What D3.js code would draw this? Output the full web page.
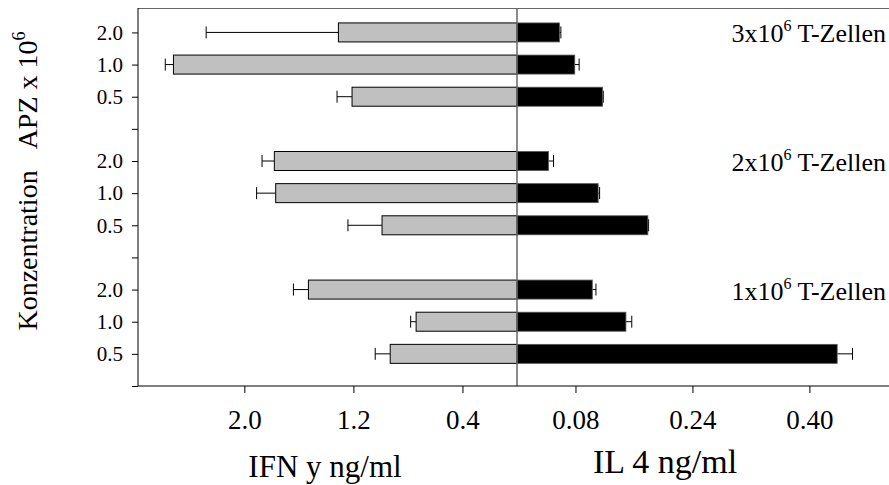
<!DOCTYPE html>
<html>
<head>
<meta charset="utf-8">
<script src="https://cdn.jsdelivr.net/npm/d3@7"></script>
<style>
  html, body { margin: 0; padding: 0; background: #fff; }
  svg { display: block; }
  text { font-family: "Liberation Serif", "Times New Roman", serif; fill: #000; }
</style>
</head>
<body>
<svg id="chart" width="889" height="485"></svg>
<script>
// ---- data ----
const groups = ["3", "2", "1"];                 // x10^6 T-Zellen
const concentrations = ["2.0", "1.0", "0.5"];   // APZ x 10^6
const ifnValues = [[1.31, 2.52, 1.21], [1.78, 1.77, 0.99], [1.53, 0.74, 0.93]];
const ifnErrors = [[0.97, 0.06, 0.11], [0.09, 0.14, 0.25], [0.11, 0.04, 0.11]];
const il4Values = [[0.058, 0.079, 0.117], [0.043, 0.111, 0.179], [0.103, 0.149, 0.438]];
const il4Errors = [[0.002, 0.006, 0.001], [0.007, 0.002, 0.001], [0.005, 0.008, 0.021]];
const yTickLabels = ["", "0.5", "1.0", "2.0", "", "0.5", "1.0", "2.0", "", "0.5", "1.0", "2.0"];
const ifnTicks = [2.0, 1.2, 0.4];
const il4Ticks = [0.08, 0.24, 0.40];

(function () {
// ---- layout ----
const pLeft = 138, pTop = 8, pBottom = 386, zeroX = 517;
const svg = d3.select("#chart");

const xL = d3.scaleLinear().domain([0, 2.78]).range([zeroX, pLeft]);
const xR = d3.scaleLinear().domain([0, 0.53]).range([zeroX, zeroX + 0.53 * 731]);
const y = d3.scaleLinear().domain([0, 11.76]).range([pBottom, pTop]);
const barH = 19;

const rows = [];
groups.forEach((g, gi) => {
  concentrations.forEach((c, ci) => {
    rows.push({
      slot: 11 - gi * 4 - ci,
      ifn: ifnValues[gi][ci], ifnErr: ifnErrors[gi][ci],
      il4: il4Values[gi][ci], il4Err: il4Errors[gi][ci]
    });
  });
});

// frame top line
svg.append("line").attr("x1", pLeft).attr("x2", 889).attr("y1", pTop + 0.5).attr("y2", pTop + 0.5)
  .attr("stroke", "#666").attr("stroke-width", 1.2);

// error bars
const eL = svg.append("g");
rows.forEach(r => {
  const yc = y(r.slot);
  const x0 = xL(r.ifn), x1 = xL(r.ifn + r.ifnErr);
  eL.append("line").attr("x1", x0).attr("x2", x1).attr("y1", yc).attr("y2", yc).attr("stroke", "#000").attr("stroke-width", 1);
  eL.append("line").attr("x1", x1).attr("x2", x1).attr("y1", yc - 6).attr("y2", yc + 6).attr("stroke", "#000").attr("stroke-width", 1);
  const r0 = xR(r.il4), r1 = xR(r.il4 + r.il4Err);
  eL.append("line").attr("x1", r0).attr("x2", r1).attr("y1", yc).attr("y2", yc).attr("stroke", "#000").attr("stroke-width", 1);
  eL.append("line").attr("x1", r1).attr("x2", r1).attr("y1", yc - 6).attr("y2", yc + 6).attr("stroke", "#000").attr("stroke-width", 1);
});

// IFN bars
svg.append("g").selectAll("rect").data(rows).join("rect")
  .attr("x", d => xL(d.ifn)).attr("y", d => y(d.slot) - barH / 2)
  .attr("width", d => xL(0) - xL(d.ifn)).attr("height", barH)
  .attr("fill", "#c0c0c0").attr("stroke", "#000").attr("stroke-width", 1);

// IL4 bars
svg.append("g").selectAll("rect").data(rows).join("rect")
  .attr("x", d => xR(0)).attr("y", d => y(d.slot) - barH / 2)
  .attr("width", d => xR(d.il4) - xR(0)).attr("height", barH)
  .attr("fill", "#000").attr("stroke", "#555").attr("stroke-width", 0.8);

// center line
svg.append("line").attr("x1", zeroX).attr("x2", zeroX).attr("y1", pTop).attr("y2", pBottom)
  .attr("stroke", "#666").attr("stroke-width", 1.5);

// left axis
const yAxis = d3.axisLeft(y).tickValues(d3.range(0, 12)).tickSize(6).tickPadding(9)
  .tickFormat(d => yTickLabels[d]);
const gy = svg.append("g").attr("transform", `translate(${pLeft},0)`).call(yAxis);
gy.select(".domain").attr("d", `M0,${pTop}V${pBottom}`).attr("stroke", "#000");
gy.selectAll("text").style("font-family", "'Liberation Serif', serif").style("font-size", "21px");

// bottom axis
const gxL = svg.append("g").attr("transform", `translate(0,${pBottom})`)
  .call(d3.axisBottom(xL).tickValues(ifnTicks).tickSize(7).tickPadding(17).tickFormat(d3.format(".1f")));
gxL.select(".domain").attr("d", `M${pLeft},0H${zeroX}`);
const gxR = svg.append("g").attr("transform", `translate(0,${pBottom})`)
  .call(d3.axisBottom(xR).tickValues(il4Ticks).tickSize(7).tickPadding(17).tickFormat(d3.format(".2f")));
gxR.select(".domain").attr("d", `M${zeroX},0H889`);
[gxL, gxR].forEach(g => g.selectAll("text").style("font-family", "'Liberation Serif', serif").style("font-size", "27px"));

// axis titles
svg.append("text").attr("x", 325).attr("y", 477).attr("text-anchor", "middle")
  .style("font-size", "31px").text("IFN y ng/ml");
svg.append("text").attr("x", 665).attr("y", 473).attr("text-anchor", "middle")
  .style("font-size", "34px").text("IL 4 ng/ml");

const yt = svg.append("text").attr("transform", "translate(37,181) rotate(-90)")
  .attr("text-anchor", "middle").style("font-size", "28px");
yt.append("tspan").text("Konzentration\u00a0\u00a0\u00a0APZ x 10");
yt.append("tspan").attr("dy", -12).style("font-size", "18px").text("6");

// group labels
groups.forEach((g, gi) => {
  const t = svg.append("text").attr("x", 886).attr("y", y(11 - gi * 4) + 10)
    .attr("text-anchor", "end").style("font-size", "26px");
  t.append("tspan").text(g + "x10");
  t.append("tspan").attr("dy", -11).style("font-size", "16px").text("6");
  t.append("tspan").attr("dy", 11).text(" T-Zellen");
});
})();
</script>
</body>
</html>
